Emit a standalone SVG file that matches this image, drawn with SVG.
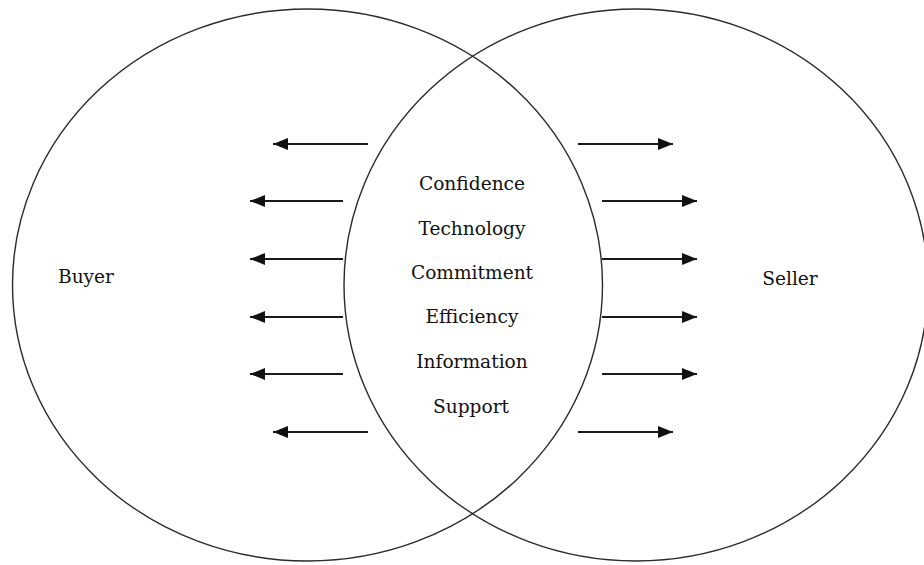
<svg xmlns="http://www.w3.org/2000/svg" width="924" height="565" viewBox="0 0 924 565">
  <style>
    .ring { fill: none; stroke: #2a2a2a; stroke-width: 1.4; }
    .arrow { fill: none; stroke: #1a1a1a; stroke-width: 2; marker-end: url(#head); }
    .label { font-family: "DejaVu Serif", "Liberation Serif", serif; font-size: 18.6px; fill: #111; text-anchor: middle; }
  </style>
  <defs>
    <marker id="head" markerUnits="userSpaceOnUse" markerWidth="16" markerHeight="12" refX="15" refY="6" orient="auto">
      <path d="M0,0 L15,6 L0,12 Z" fill="#111"/>
    </marker>
  </defs>
  <rect width="924" height="565" fill="#fff"/>

  <!-- the two overlapping circles -->
  <g id="buyer">
    <ellipse class="ring" cx="307.5" cy="285" rx="295" ry="276"/>
    <text class="label" x="86" y="283">Buyer</text>
  </g>
  <g id="seller">
    <ellipse class="ring" cx="636" cy="285" rx="292" ry="276"/>
    <text class="label" x="790" y="285">Seller</text>
  </g>

  <!-- shared factors in the overlap -->
  <g id="shared">
    <text class="label" x="472" y="190">Confidence</text>
    <text class="label" x="472" y="235">Technology</text>
    <text class="label" x="472" y="279">Commitment</text>
    <text class="label" x="472" y="323">Efficiency</text>
    <text class="label" x="472" y="368">Information</text>
    <text class="label" x="471" y="413">Support</text>
  </g>

  <!-- connectors flowing out to each side -->
  <g id="connectors">
    <line class="arrow" x1="368" y1="144" x2="273" y2="144"/>
    <line class="arrow" x1="343" y1="201" x2="250" y2="201"/>
    <line class="arrow" x1="343" y1="259" x2="250" y2="259"/>
    <line class="arrow" x1="343" y1="317" x2="250" y2="317"/>
    <line class="arrow" x1="343" y1="374" x2="250" y2="374"/>
    <line class="arrow" x1="368" y1="432" x2="273" y2="432"/>

    <line class="arrow" x1="578" y1="144" x2="673" y2="144"/>
    <line class="arrow" x1="602" y1="201" x2="697" y2="201"/>
    <line class="arrow" x1="602" y1="259" x2="697" y2="259"/>
    <line class="arrow" x1="602" y1="317" x2="697" y2="317"/>
    <line class="arrow" x1="602" y1="374" x2="697" y2="374"/>
    <line class="arrow" x1="578" y1="432" x2="673" y2="432"/>
  </g>
</svg>
